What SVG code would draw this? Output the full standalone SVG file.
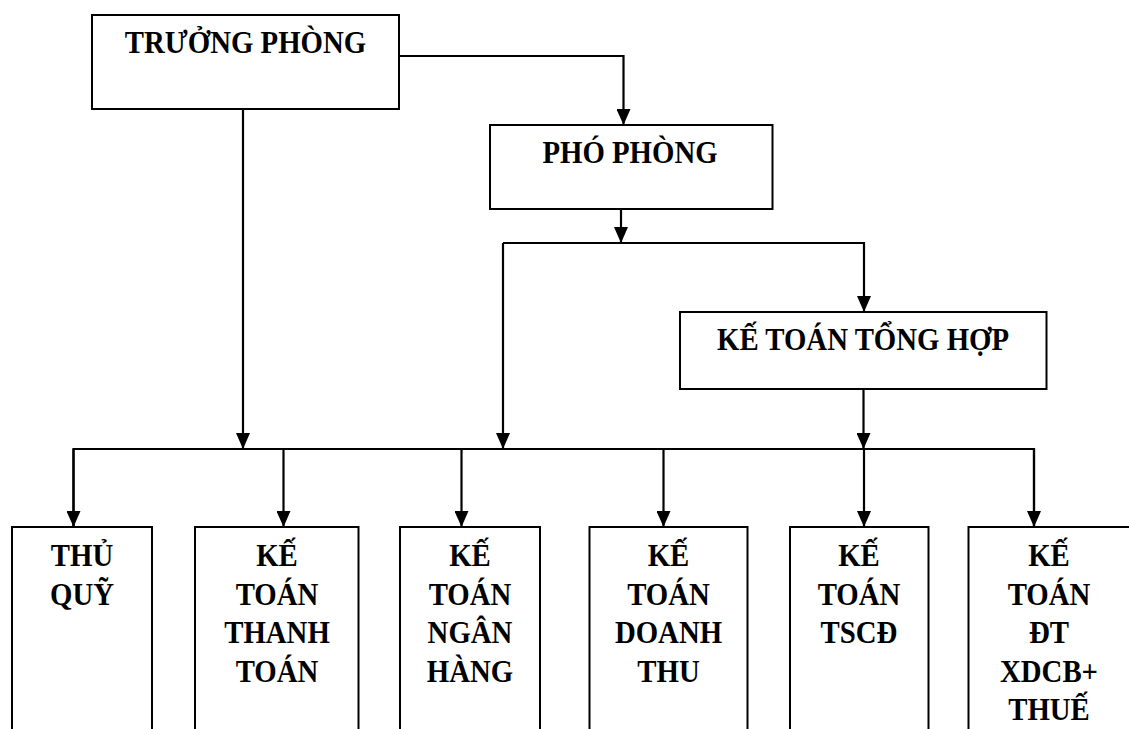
<svg xmlns="http://www.w3.org/2000/svg" width="1129" height="729" viewBox="0 0 1129 729">
<style>
.box{fill:#fff;stroke:#000;stroke-width:2}
.t{font-family:"Liberation Serif","Times New Roman",serif;font-weight:bold;font-size:32px;fill:#000;text-anchor:middle}
.c{fill:none;stroke:#000;stroke-width:2.2}
</style>
<defs>
<marker id="ah" viewBox="0 0 16 14" refX="16" refY="7" markerWidth="16" markerHeight="14" orient="auto" markerUnits="userSpaceOnUse">
<path d="M0,0 L16,7 L0,14 z" fill="#000"/>
</marker>
</defs>
<rect width="1129" height="729" fill="#fff"/>
<g id="connectors">
<path class="c" d="M399,56 H623.5 V125" marker-end="url(#ah)"/>
<path class="c" d="M243,109 V449" marker-end="url(#ah)"/>
<path class="c" d="M621,209 V243" marker-end="url(#ah)"/>
<path class="c" d="M503,243 H864 V312" marker-end="url(#ah)"/>
<path class="c" d="M503,243 V449" marker-end="url(#ah)"/>
<path class="c" d="M863.5,389 V449" marker-end="url(#ah)"/>
<path class="c" d="M73.5,527 V449 H1034 V527"/>
<path class="c" d="M73.5,449 V527" marker-end="url(#ah)"/>
<path class="c" d="M283.5,449 V527" marker-end="url(#ah)"/>
<path class="c" d="M461.5,449 V527" marker-end="url(#ah)"/>
<path class="c" d="M663.5,449 V527" marker-end="url(#ah)"/>
<path class="c" d="M864,449 V527" marker-end="url(#ah)"/>
<path class="c" d="M1034,449 V527" marker-end="url(#ah)"/>
</g>
<g id="truong-phong">
<rect class="box" x="92" y="15" width="307" height="94"/>
<text class="t" transform="translate(245.5 53) scale(0.9 1)">TRƯỞNG PHÒNG</text>
</g>
<g id="pho-phong">
<rect class="box" x="490" y="125" width="282.5" height="84"/>
<text class="t" transform="translate(630 163) scale(0.9 1)">PHÓ PHÒNG</text>
</g>
<g id="ke-toan-tong-hop">
<rect class="box" x="680" y="312" width="366.5" height="77"/>
<text class="t" transform="translate(863 350) scale(0.9 1)">KẾ TOÁN TỔNG HỢP</text>
</g>
<g id="thu-quy">
<rect class="box" x="12" y="527" width="140" height="220"/>
<text class="t" transform="translate(82 566) scale(0.9 1)">THỦ</text>
<text class="t" transform="translate(82 604.5) scale(0.9 1)">QUỸ</text>
</g>
<g id="ke-toan-thanh-toan">
<rect class="box" x="195" y="527" width="163.5" height="220"/>
<text class="t" transform="translate(277 566) scale(0.9 1)">KẾ</text>
<text class="t" transform="translate(277 604.5) scale(0.9 1)">TOÁN</text>
<text class="t" transform="translate(277 643) scale(0.9 1)">THANH</text>
<text class="t" transform="translate(277 681.5) scale(0.9 1)">TOÁN</text>
</g>
<g id="ke-toan-ngan-hang">
<rect class="box" x="400" y="527" width="140" height="220"/>
<text class="t" transform="translate(470 566) scale(0.9 1)">KẾ</text>
<text class="t" transform="translate(470 604.5) scale(0.9 1)">TOÁN</text>
<text class="t" transform="translate(470 643) scale(0.9 1)">NGÂN</text>
<text class="t" transform="translate(470 681.5) scale(0.9 1)">HÀNG</text>
</g>
<g id="ke-toan-doanh-thu">
<rect class="box" x="589.5" y="527" width="158" height="220"/>
<text class="t" transform="translate(668.5 566) scale(0.9 1)">KẾ</text>
<text class="t" transform="translate(668.5 604.5) scale(0.9 1)">TOÁN</text>
<text class="t" transform="translate(668.5 643) scale(0.9 1)">DOANH</text>
<text class="t" transform="translate(668.5 681.5) scale(0.9 1)">THU</text>
</g>
<g id="ke-toan-tscd">
<rect class="box" x="790" y="527" width="138.5" height="220"/>
<text class="t" transform="translate(859 566) scale(0.9 1)">KẾ</text>
<text class="t" transform="translate(859 604.5) scale(0.9 1)">TOÁN</text>
<text class="t" transform="translate(859 643) scale(0.9 1)">TSCĐ</text>
</g>
<g id="ke-toan-dt-xdcb-thue">
<rect class="box" x="968.5" y="527" width="162" height="220"/>
<text class="t" transform="translate(1049 566) scale(0.9 1)">KẾ</text>
<text class="t" transform="translate(1049 604.5) scale(0.9 1)">TOÁN</text>
<text class="t" transform="translate(1049 643) scale(0.9 1)">ĐT</text>
<text class="t" transform="translate(1049 681.5) scale(0.9 1)">XDCB+</text>
<text class="t" transform="translate(1049 720) scale(0.9 1)">THUẾ</text>
</g>
</svg>
